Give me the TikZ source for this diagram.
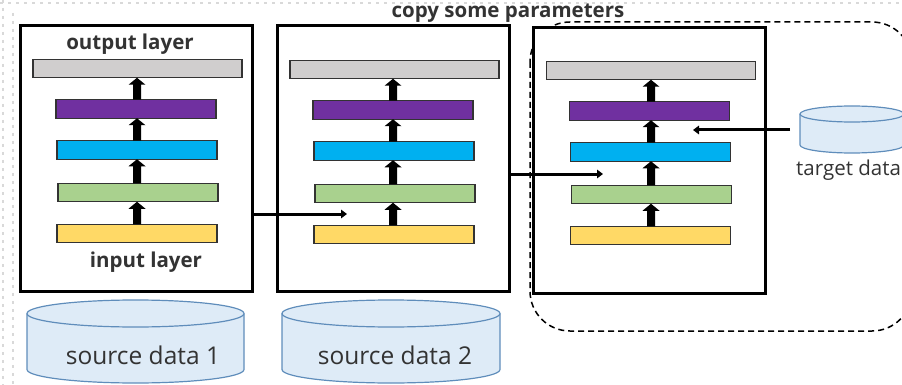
\documentclass[tikz,border=0pt]{standalone}
\usepackage{fontspec}
\setmainfont{Open Sans}
\usetikzlibrary{arrows.meta,calc}
\definecolor{lgray}{HTML}{D0CECE}
\definecolor{lpurple}{HTML}{7030A0}
\definecolor{lblue}{HTML}{00B0F0}
\definecolor{lgreen}{HTML}{A9D18E}
\definecolor{lyellow}{HTML}{FFD966}
\definecolor{dbfill}{HTML}{DEEBF7}
\definecolor{dbline}{HTML}{5F8DBB}
\definecolor{txt}{HTML}{333333}
\definecolor{frame}{HTML}{D9D9D9}

% database cylinder: name, left x, right x, top centre y, bottom centre y, half height of the ellipse
\newcommand\dbcylinder[6]{%
  \pgfmathsetmacro\rx{(#3-#2)/2}%
  \pgfmathsetmacro\cx{(#3+#2)/2}%
  \fill[dbfill] (#2,#4) -- (#2,#5) arc[start angle=180,end angle=0,x radius=\rx,y radius=#6] -- (#3,#4) -- cycle;
  \draw[dbline,line width=1.2pt] (#2,#4) -- (#2,#5) arc[start angle=180,end angle=0,x radius=\rx,y radius=#6] -- (#3,#4);
  \draw[dbline,line width=1.2pt,fill=dbfill] (\cx,#4) ellipse[x radius=\rx,y radius=#6];
  \coordinate (#1) at (\cx,#4);
}

% thick block arrow from the top of layer #1 to the bottom of layer #2, on the vertical through #3
\newcommand\layerarrow[3]{%
  \coordinate (ta) at (#1.north -| #3);
  \coordinate (tb) at (#2.south -| #3);
  \fill[blockarrow] ($(ta)+(-4,0)$) -- ($(tb)+(-4,7)$) -- ($(tb)+(-8.5,7)$) -- (tb)
    -- ($(tb)+(8.5,7)$) -- ($(tb)+(4,7)$) -- ($(ta)+(4,0)$) -- cycle;
}

\begin{document}
\begin{tikzpicture}[x=1pt,y=1pt,yscale=-1,
  netbox/.style={draw=black,line width=3pt,fill=white,minimum width=232pt,minimum height=265pt,inner sep=0pt},
  layer/.style={draw=black!80,line width=1.2pt,minimum height=18.5pt,inner sep=0pt,outer sep=0pt},
  hidden/.style={layer,minimum width=160pt},
  outlayer/.style={layer,minimum width=209pt,fill=lgray},
  blockarrow/.style={fill=black},
  link/.style={line width=3pt,-{Triangle[width=8.5pt,length=6pt]}},
  heading/.style={font=\bfseries\fontsize{20.5}{24}\selectfont,text=txt,inner sep=0pt},
  dblabel/.style={font=\fontsize{24.5}{28}\selectfont,text=txt,inner sep=0pt},
]
\useasboundingbox (0,0) rectangle (902,385);
\clip (0,0) rectangle (902,385);

% faint dotted frame on the top and left edges
\draw[frame,line width=2.5pt,dash pattern=on 3pt off 5pt] (0,3) -- (902,3);
\draw[frame,line width=2.5pt,dash pattern=on 3pt off 5pt] (3,0) -- (3,385);
\draw[frame,line width=2.5pt,dash pattern=on 3pt off 5pt] (13,13) -- (13,385);

% dashed region of the target network
\draw[black,line width=1.5pt,dash pattern=on 6pt off 4pt,rounded corners=40pt] (530,22) rectangle (912,331);

% title
\node[heading] (title) at (508,13) {copy some parameters};

% three networks
\foreach \n/\cx/\cy/\dy/\ax in {1/136/158.5/0/137, 2/393/158.5/1/393, 3/649.5/160.5/2/651} {
  \node[netbox] (box\n) at (\cx,\cy) {};
  \coordinate (axis\n) at (\ax,0);
  \node[outlayer] (out\n) at (\cx+1.5,68.5+\dy) {};
  \node[hidden,fill=lpurple] (pur\n) at (\cx,109+\dy) {};
  \node[hidden,fill=lblue]   (blu\n) at (\cx+1,150+\dy) {};
  \node[hidden,fill=lgreen]  (grn\n) at (\cx+2,192.5+\dy) {};
  \node[hidden,fill=lyellow] (yel\n) at (\cx+1,233.5+\dy) {};
  \layerarrow{yel\n}{grn\n}{axis\n}
  \layerarrow{grn\n}{blu\n}{axis\n}
  \layerarrow{blu\n}{pur\n}{axis\n}
  \layerarrow{pur\n}{out\n}{axis\n}
}

\node[heading] (outlabel) at (130,44) {output layer};
\node[heading] (inlabel) at (146,262) {input layer};

% data stores
\dbcylinder{src1}{27}{244}{313.5}{369.5}{13.5}
\dbcylinder{src2}{282}{500}{313.5}{369.5}{13.5}
\dbcylinder{tgt}{800}{904}{114}{145}{8}
\node[dblabel] (src1label) at (143,355) {source data 1};
\node[dblabel] (src2label) at (395,355) {source data 2};
\node[dblabel,anchor=west,font=\fontsize{20.5}{24}\selectfont] (tgtlabel) at (796,170) {target data};

% parameter transfer and target input
\coordinate (in2) at (347,214);
\coordinate (in3) at (603,174);
\coordinate (tgtout) at (790,130);
\coordinate (tgtin) at (693,130);
\draw[link] (box1.east |- in2) -- (in2);
\draw[link] (box2.east |- in3) -- (in3);
\draw[link] (tgtout) -- (tgtin);
\end{tikzpicture}
\end{document}
